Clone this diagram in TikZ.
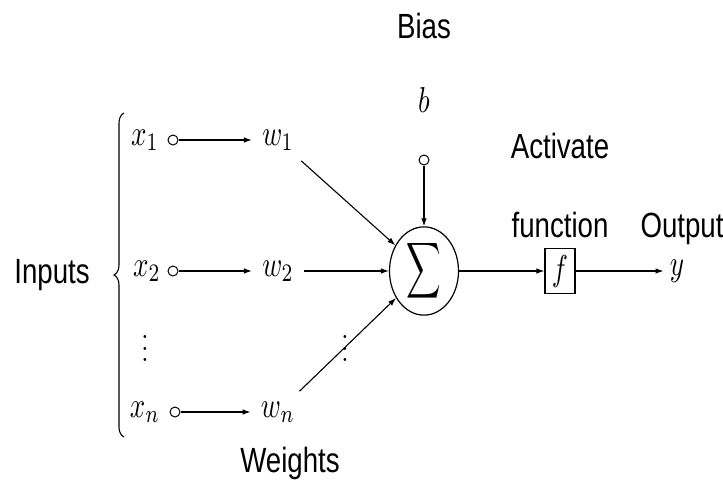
\documentclass[tikz,border=0pt]{standalone}
\usepackage{fontspec}
\setsansfont{Liberation Sans}[FakeStretch=0.79]
\usepackage{graphicx}
\usetikzlibrary{arrows.meta,positioning,shapes.geometric,decorations.pathreplacing}
\newcommand{\sqz}[1]{\scalebox{1.35}[1.8]{$#1$}}
\tikzset{
  lbl/.style={font=\sffamily\fontsize{17.5}{19}\selectfont, inner sep=0pt, anchor=base},
  mth/.style={inner sep=3pt},
  wt/.style={mth, inner sep=5pt},
  port/.style={draw, circle, minimum size=5pt, inner sep=0pt, line width=0.5pt},
  sumnode/.style={draw, ellipse, minimum width=34.5pt, minimum height=39.5pt, inner sep=0pt, line width=0.6pt},
  actbox/.style={draw, minimum width=15pt, minimum height=22.5pt, inner sep=0pt, line width=0.6pt},
  line/.style={-{Latex[length=4pt,width=2.8pt]}, line width=0.55pt}
}

\begin{document}
\begin{tikzpicture}[x=0.5pt, y=-0.5pt]
  \useasboundingbox (0,0) rectangle (723,483);

  % texts
  \node[lbl] (bias) at (424,38) {Bias};
  \node[lbl] (inputs) at (52,283) {Inputs};
  \node[lbl] (weights) at (290,472) {Weights};
  \node[lbl] (act) at (560,158) {Activate};
  \node[lbl] (fun) at (560,237) {function};
  \node[lbl] (out) at (682,237) {Output};

  % bias and sum
  \node[mth] (b) at (424,100) {\sqz{b}};
  \node[port] (bc) at (424,160) {};
  \node[sumnode] (sum) at (424,271) {\scalebox{1.2}[1.95]{$\displaystyle\sum$}};

  % inputs and weights
  \node[mth] (x1) at (145,140) {\sqz{x_1}};
  \node[port] (c1) at (173,140) {};
  \node[wt] (w1) at (278,140) {\sqz{w_1}};
  \node[mth] (x2) at (147,271) {\sqz{x_2}};
  \node[port] (c2) at (173,271) {};
  \node[wt] (w2) at (278,271) {\sqz{w_2}};
  \node[mth] (xn) at (145,412) {\sqz{x_n}};
  \node[port] (cn) at (175,412) {};
  \node[wt] (wn) at (278,412) {\sqz{w_n}};
  \node[mth] (vdl) at (145,340) {\scalebox{1.3}[1.45]{$\vdots$}};
  \node[mth] (vdm) at (345,340) {\scalebox{1.3}[1.45]{$\vdots$}};

  % activation and output
  \node[actbox] (f) at (560,271) {\sqz{f}};
  \node[mth] (y) at (677,271) {\sqz{y}};

  % brace
  \coordinate (btop) at (124,113);
  \coordinate (bbot) at (124,437);
  \draw[line width=0.55pt, decorate, decoration={brace, amplitude=5pt}] (bbot) -- (btop);

  \draw[line] (c1) -- (w1);
  \draw[line] (c2) -- (w2);
  \draw[line] (cn) -- (wn);
  \draw[line] (w1) -- (sum);
  \draw[line] (w2) -- (sum);
  \draw[line] (wn) -- (sum);
  \draw[line] (bc) -- (sum);
  \draw[line] (sum) -- (f);
  \draw[line] (f) -- (y);
\end{tikzpicture}
\end{document}
